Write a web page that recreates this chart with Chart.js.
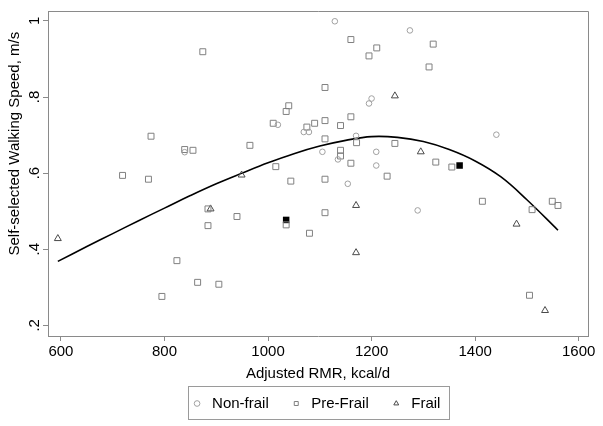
<!DOCTYPE html>
<html>
<head>
<meta charset="utf-8">
<script src="https://cdn.jsdelivr.net/npm/chart.js@4"></script>
<style>
  html, body { margin: 0; padding: 0; background: #fff; }
  #wrap { width: 603px; height: 426px; }
</style>
</head>
<body>
<div id="wrap"><canvas id="rmrChart"></canvas></div>
<script>
// values
const nonFrailX = [1129, 1274, 1200, 1195, 1441, 1170, 1019, 1069, 1079, 839, 1105, 1135, 1209, 1209, 1154, 1289];
const nonFrailY = [0.999, 0.975, 0.796, 0.783, 0.701, 0.698, 0.727, 0.708, 0.708, 0.655, 0.656, 0.636, 0.656, 0.620, 0.572, 0.502];

const preFrailX = [874, 1110, 1040, 1035, 1010, 1075, 1090, 1110, 774, 839, 855, 965, 1110, 1015, 719, 769,
  1044, 1110, 1160, 1210, 1195, 1319, 1311, 1160, 1140, 1171, 1245, 1140, 1140, 1160, 1324, 1355,
  1230, 1110, 1080, 1414, 1510, 1549, 1560, 1505, 884, 884, 940, 1035, 824, 864, 905, 795];
const preFrailY = [0.919, 0.825, 0.777, 0.762, 0.731, 0.721, 0.731, 0.738, 0.697, 0.662, 0.660, 0.673, 0.690, 0.617, 0.594, 0.584,
  0.579, 0.584, 0.951, 0.929, 0.908, 0.939, 0.879, 0.748, 0.725, 0.680, 0.678, 0.660, 0.645, 0.626, 0.629, 0.616,
  0.592, 0.496, 0.442, 0.526, 0.504, 0.526, 0.515, 0.279, 0.506, 0.462, 0.486, 0.464, 0.370, 0.313, 0.308, 0.276];

const frailX = [594, 889, 949, 1245, 1295, 1170, 1170, 1480, 1535];
const frailY = [0.428, 0.506, 0.595, 0.803, 0.656, 0.515, 0.391, 0.466, 0.239];

// two solid black squares
const markedX = [1035, 1370];
const markedY = [0.477, 0.620];

// fitted curve
const fitX = [594, 650, 700, 750, 800, 850, 900, 950, 1000, 1050, 1100, 1150, 1200, 1250, 1300, 1350, 1400, 1450, 1500, 1560];
const fitY = [0.368, 0.407, 0.441, 0.475, 0.508, 0.541, 0.572, 0.600, 0.627, 0.651, 0.671, 0.686, 0.696, 0.694, 0.683, 0.662, 0.632, 0.590, 0.530, 0.450];

const xTicks = [600, 800, 1000, 1200, 1400, 1600];
const yTicks = [0.2, 0.4, 0.6, 0.8, 1.0];
const yTickLabels = ['.2', '.4', '.6', '.8', '1'];

const FONT = "'Liberation Sans', Arial, sans-serif";
const AXIS_GREY = '#8a8a8a';

function pts(xs, ys) {
  return xs.map((x, i) => ({ x: x, y: ys[i] }));
}

// frame around plot region and legend
const framePlugin = {
  id: 'frames',
  afterLayout(chart) {
    // legend sits centred under the plot, not the whole canvas
    const lg = chart.legend;
    lg.left += 21;
    lg.right += 21;
  },
  afterDraw(chart) {
    const ctx = chart.ctx;
    const a = chart.chartArea;
    ctx.save();
    ctx.strokeStyle = AXIS_GREY;
    ctx.lineWidth = 1;
    ctx.beginPath();
    ctx.moveTo(a.left, a.top + 0.5);
    ctx.lineTo(a.right + 0.5, a.top + 0.5);
    ctx.lineTo(a.right + 0.5, a.bottom);
    ctx.stroke();

    const boxes = chart.legend.legendHitBoxes;
    if (boxes && boxes.length) {
      const l = Math.min(...boxes.map(b => b.left));
      const r = Math.max(...boxes.map(b => b.left + b.width));
      const t = Math.min(...boxes.map(b => b.top));
      const b = Math.max(...boxes.map(bb => bb.top + bb.height));
      ctx.strokeStyle = '#9a9a9a';
      ctx.strokeRect(Math.round(l - 2) + 0.5, Math.round(t - 10) + 0.5, Math.round(r - l + 10), Math.round(b - t + 18));
    }
    ctx.restore();
  }
};

const ctx = document.getElementById('rmrChart').getContext('2d');
const rmrChart = new Chart(ctx, {
  type: 'scatter',
  data: {
    datasets: [
      {
        label: 'Non-frail',
        data: pts(nonFrailX, nonFrailY),
        pointStyle: 'circle',
        pointRadius: 2.8,
        borderColor: '#a0a0a0',
        backgroundColor: 'rgba(0,0,0,0)',
        borderWidth: 1
      },
      {
        label: 'Pre-Frail',
        data: pts(preFrailX, preFrailY),
        pointStyle: 'rect',
        pointRadius: 4.2,
        borderColor: '#808080',
        backgroundColor: 'rgba(0,0,0,0)',
        borderWidth: 1
      },
      {
        label: 'Frail',
        data: pts(frailX, frailY),
        pointStyle: 'triangle',
        pointRadius: 4,
        borderColor: '#4a4a4a',
        backgroundColor: 'rgba(0,0,0,0)',
        borderWidth: 1
      },
      {
        label: 'marked',
        data: pts(markedX, markedY),
        pointStyle: 'rect',
        pointRadius: 4.6,
        borderColor: '#000',
        backgroundColor: '#000',
        borderWidth: 0
      },
      {
        label: 'fit',
        type: 'line',
        data: pts(fitX, fitY),
        showLine: true,
        pointRadius: 0,
        borderColor: '#000',
        borderWidth: 1.6,
        tension: 0.4,
        fill: false
      }
    ]
  },
  options: {
    responsive: true,
    maintainAspectRatio: false,
    animation: false,
    layout: { padding: { top: 6, right: 15, bottom: 5, left: 0 } },
    plugins: {
      tooltip: { enabled: false },
      legend: {
        position: 'bottom',
        labels: {
          filter: item => item.datasetIndex < 3,
          usePointStyle: true,
          boxHeight: 4,
          boxWidth: 15,
          padding: 20,
          color: '#000',
          font: { family: FONT, size: 15 }
        }
      }
    },
    scales: {
      x: {
        type: 'linear',
        min: 575,
        max: 1618,
        afterBuildTicks: scale => { scale.ticks = xTicks.map(v => ({ value: v })); },
        afterFit: scale => { scale.height = 40; },
        grid: { drawOnChartArea: false, drawTicks: true, tickLength: 5, color: AXIS_GREY },
        border: { display: true, color: AXIS_GREY, width: 1 },
        ticks: {
          color: '#000',
          padding: 2,
          maxRotation: 0,
          font: { family: FONT, size: 15 },
          callback: v => String(v)
        },
        title: {
          display: true,
          text: 'Adjusted RMR, kcal/d',
          color: '#000',
          padding: { top: 0, bottom: -7 },
          font: { family: FONT, size: 15 }
        }
      },
      y: {
        type: 'linear',
        min: 0.172,
        max: 1.026,
        afterBuildTicks: scale => { scale.ticks = yTicks.map(v => ({ value: v })); },
        afterFit: scale => { scale.width = 48; },
        grid: { drawOnChartArea: false, drawTicks: true, tickLength: 5, color: AXIS_GREY },
        border: { display: true, color: AXIS_GREY, width: 1 },
        ticks: {
          color: '#000',
          padding: 2,
          minRotation: 90,
          maxRotation: 90,
          crossAlign: 'center',
          font: { family: FONT, size: 15 },
          callback: v => yTickLabels[yTicks.findIndex(t => Math.abs(t - v) < 1e-6)]
        },
        title: {
          display: true,
          text: 'Self-selected Walking Speed, m/s     ',
          align: 'end',
          color: '#000',
          padding: { top: 6, bottom: 0 },
          font: { family: FONT, size: 15 }
        }
      }
    }
  },
  plugins: [framePlugin]
});
</script>
</body>
</html>
